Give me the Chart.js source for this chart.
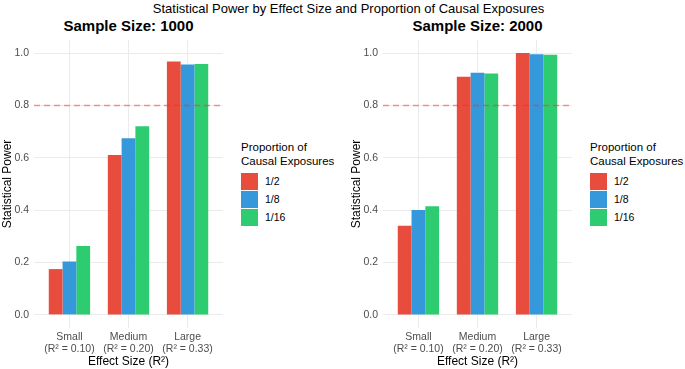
<!DOCTYPE html>
<html>
<head>
<meta charset="utf-8">
<script src="https://cdn.jsdelivr.net/npm/chart.js@4"></script>
<style>
  body { margin: 0; background: #fff; font-family: "Liberation Sans", Arial, sans-serif; }
  #wrap { position: relative; width: 685px; height: 369px; overflow: hidden; }
  .panel { position: absolute; top: 0; width: 235px; height: 369px; }
  .main-title { position: absolute; left: 6px; top: 1px; width: 685px; text-align: center; font-size: 13px; color: #000; white-space: nowrap; }
  .sub-title { position: absolute; top: 17px; width: 189px; text-align: center; font-size: 15px; font-weight: bold; color: #000; white-space: nowrap; }
  .legend { position: absolute; top: 140px; font-size: 11.5px; color: #000; white-space: nowrap; }
  .legend .ttl { line-height: 14px; margin-bottom: 4px; }
  .legend .item { display: flex; align-items: center; height: 18px; }
  .legend .key { width: 17px; height: 17px; margin-right: 7px; }
  .legend .lab { font-size: 10.5px; }
</style>
</head>
<body>
<div id="wrap">
  <div class="main-title">Statistical Power by Effect Size and Proportion of Causal Exposures</div>
  <div class="sub-title" style="left:34px">Sample Size: 1000</div>
  <div class="sub-title" style="left:383px">Sample Size: 2000</div>
  <div class="panel" style="left:0px"><canvas id="chart1000"></canvas></div>
  <div class="panel" style="left:349px"><canvas id="chart2000"></canvas></div>
  <div class="legend" id="legend1000" style="left:241px"></div>
  <div class="legend" id="legend2000" style="left:590px"></div>
</div>
<script>
// data
const categories = ['Small', 'Medium', 'Large'];
const r2Labels = ['(R² = 0.10)', '(R² = 0.20)', '(R² = 0.33)'];
const proportions = ['1/2', '1/8', '1/16'];
const colors = ['#E74C3C', '#3498DB', '#2ECC71'];

const power1000Half = [0.175, 0.611, 0.968];
const power1000Eighth = [0.204, 0.675, 0.956];
const power1000Sixteenth = [0.263, 0.721, 0.958];

const power2000Half = [0.341, 0.910, 1.000];
const power2000Eighth = [0.401, 0.925, 0.996];
const power2000Sixteenth = [0.415, 0.922, 0.994];

const powerThreshold = 0.8;
const yTicks = [0, 0.2, 0.4, 0.6, 0.8, 1.0];

const fontFamily = '"Liberation Sans", Arial, sans-serif';

const thresholdLine = {
    id: 'thresholdLine',
    afterDatasetsDraw(chart) {
        const { ctx, chartArea } = chart;
        const y = chart.scales.y.getPixelForValue(powerThreshold);
        ctx.save();
        ctx.strokeStyle = 'rgba(255, 40, 40, 0.5)';
        ctx.lineWidth = 1.5;
        ctx.setLineDash([6, 4]);
        ctx.beginPath();
        ctx.moveTo(chartArea.left, y);
        ctx.lineTo(chartArea.right, y);
        ctx.stroke();
        ctx.restore();
    }
};

function toPoints(values) {
    return values.map((v, i) => ({ x: i + 1, y: v }));
}

function makeChart(id, seriesList) {
    const ctx = document.getElementById(id).getContext('2d');
    return new Chart(ctx, {
        type: 'bar',
        data: {
            datasets: seriesList.map((vals, i) => ({
                label: proportions[i],
                data: toPoints(vals),
                backgroundColor: colors[i],
                borderWidth: 0
            }))
        },
        options: {
            responsive: true,
            maintainAspectRatio: false,
            animation: false,
            categoryPercentage: 0.7,
            barPercentage: 1.0,
            layout: { padding: { top: 40, right: 12, bottom: 0, left: 0 } },
            plugins: {
                legend: { display: false },
                tooltip: { enabled: false }
            },
            scales: {
                x: {
                    type: 'linear',
                    offset: false,
                    min: 0.4,
                    max: 3.6,
                    afterBuildTicks: (scale) => { scale.ticks = categories.map((c, i) => ({ value: i + 1 })); },
                    afterFit: (scale) => { scale.height = 41; },
                    grid: { color: '#EBEBEB', lineWidth: 1, drawTicks: false, offset: false },
                    border: { display: false },
                    ticks: {
                        padding: 3,
                        color: '#4D4D4D',
                        maxRotation: 0,
                        autoSkip: false,
                        font: { family: fontFamily, size: 10.5, lineHeight: 1.15 },
                        callback: (value) => [categories[value - 1], r2Labels[value - 1]]
                    },
                    title: {
                        display: true,
                        text: 'Effect Size (R²)',
                        color: '#000',
                        padding: { top: 0, bottom: 0 },
                        font: { family: fontFamily, size: 12 }
                    }
                },
                y: {
                    min: -0.05,
                    max: 1.05,
                    afterBuildTicks: (scale) => { scale.ticks = yTicks.map(v => ({ value: v })); },
                    afterFit: (scale) => { scale.width = 34; },
                    grid: { color: '#EBEBEB', lineWidth: 1, drawTicks: false },
                    border: { display: false },
                    ticks: {
                        padding: 5,
                        color: '#4D4D4D',
                        font: { family: fontFamily, size: 10.5 },
                        callback: (value) => value.toFixed(1)
                    },
                    title: {
                        display: true,
                        text: 'Statistical Power',
                        color: '#000',
                        padding: { top: 0, bottom: 0 },
                        font: { family: fontFamily, size: 12 }
                    }
                }
            }
        },
        plugins: [thresholdLine]
    });
}

function buildLegend(id) {
    const el = document.getElementById(id);
    let html = '<div class="ttl">Proportion of<br>Causal Exposures</div>';
    proportions.forEach((p, i) => {
        html += '<div class="item"><span class="key" style="background:' + colors[i] + '"></span><span class="lab">' + p + '</span></div>';
    });
    el.innerHTML = html;
}

makeChart('chart1000', [power1000Half, power1000Eighth, power1000Sixteenth]);
makeChart('chart2000', [power2000Half, power2000Eighth, power2000Sixteenth]);
buildLegend('legend1000');
buildLegend('legend2000');
</script>
</body>
</html>
